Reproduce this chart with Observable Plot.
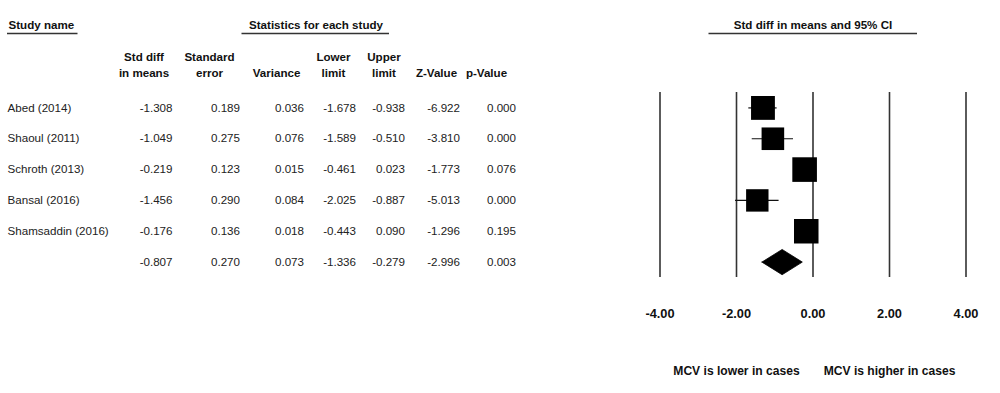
<!DOCTYPE html>
<html>
<head>
<meta charset="utf-8">
<script src="https://cdn.jsdelivr.net/npm/d3@7"></script>
<script src="https://cdn.jsdelivr.net/npm/@observablehq/plot@0.6"></script>
<style>
  html, body { margin: 0; padding: 0; background: #fff; }
  #wrap { position: relative; width: 1000px; height: 393px; overflow: hidden; }
  #wrap svg { position: absolute; left: 0; top: 0; }
</style>
</head>
<body>
<div id="wrap"></div>
<script>
// ---- data ----
const studies   = ["Abed (2014)", "Shaoul (2011)", "Schroth (2013)", "Bansal (2016)", "Shamsaddin (2016)"];
const stdDiff   = [-1.308, -1.049, -0.219, -1.456, -0.176];
const stdErr    = [0.189, 0.275, 0.123, 0.290, 0.136];
const variance  = [0.036, 0.076, 0.015, 0.084, 0.018];
const lowerLim  = [-1.678, -1.589, -0.461, -2.025, -0.443];
const upperLim  = [-0.938, -0.510, 0.023, -0.887, 0.090];
const zValue    = [-6.922, -3.810, -1.773, -5.013, -1.296];
const pValue    = [0.000, 0.000, 0.076, 0.000, 0.195];
const weightPct = [20.4, 18.3, 21.7, 18.0, 21.5];   // relative weights

const summaryStats = [-0.807, 0.270, 0.073, -1.336, -0.279, -2.996, 0.003]; // std diff, se, var, lower, upper, z, p

const columnLabels = ["Std diff\nin means", "Standard\nerror", "Variance", "Lower\nlimit", "Upper\nlimit", "Z-Value", "p-Value"];
const xTicks = [-4, -2, 0, 2, 4];
const directionLabels = ["MCV is lower in cases", "MCV is higher in cases"];
const directionAt = [-2, 2];

// ---- layout (pixels) ----
const colRight  = [172, 239.5, 303.5, 355.5, 404.5, 459.5, 515.5];
const colCenter = [143.5, 209, 276, 333, 383.5, 436, 486];
const nameX = 7;

// ---- build table ----
const rows = studies.map((s, i) => ({
  i, name: s,
  vals: [stdDiff[i], stdErr[i], variance[i], lowerLim[i], upperLim[i], zValue[i], pValue[i]]
}));
rows.push({i: studies.length, name: "", vals: summaryStats});

const cells = [];
rows.forEach(r => r.vals.forEach((v, c) => cells.push({row: r.i, x: colRight[c], text: v.toFixed(3)})));
const names = rows.filter(r => r.name).map(r => ({row: r.i, x: nameX, text: r.name}));
const heads = columnLabels.map((t, c) => ({x: colCenter[c], text: t}));
const underlines = [{x1: 7, x2: 77.5}, {x1: 241.5, x2: 389}, {x1: 708.5, x2: 917}];

const yScale = {domain: [-0.5, 5.5], range: [92, 277]};
const font = "'Liberation Sans', Arial, Helvetica, sans-serif";

const table = Plot.plot({
  width: 1000, height: 393,
  marginTop: 0, marginBottom: 0, marginLeft: 0, marginRight: 0,
  x: {type: "identity", axis: null},
  y: {...yScale, axis: null},
  style: {fontFamily: font, fontSize: "11.6px", color: "#222", background: "transparent"},
  marks: [
    Plot.text(names, {x: "x", y: "row", text: "text", textAnchor: "start", fill: "#222"}),
    Plot.text(cells, {x: "x", y: "row", text: "text", textAnchor: "end", fill: "#222"}),
    Plot.text(heads, {x: "x", frameAnchor: "top", dy: 76, text: "text", textAnchor: "middle", lineAnchor: "bottom",
                      lineHeight: 1.38, fontWeight: "bold", fill: "#111"}),
    Plot.text([{x: 8, text: "Study name"}], {x: "x", frameAnchor: "top", dy: 24.5, text: "text", textAnchor: "start",
                      lineAnchor: "middle", fontWeight: "bold", fill: "#111"}),
    Plot.text([{x: 315.5, text: "Statistics for each study"}], {x: "x", frameAnchor: "top", dy: 24.5, text: "text",
                      textAnchor: "middle", lineAnchor: "middle", fontWeight: "bold", fill: "#111"}),
    Plot.text([{x: 812.5, text: "Std diff in means and 95% CI"}], {x: "x", frameAnchor: "top", dy: 24.5, text: "text",
                      textAnchor: "middle", lineAnchor: "middle", fontWeight: "bold", fill: "#111"}),
    Plot.ruleY(underlines, {x1: "x1", x2: "x2", y: () => -0.5, dy: -59, stroke: "#333", strokeWidth: 1.4})
  ]
});

// ---- forest plot ----
const pts = studies.map((s, i) => ({row: i, est: stdDiff[i], lo: lowerLim[i], hi: upperLim[i], w: weightPct[i]}));
const si = studies.length;
const half = 0.41;
const diamond = [
  {x: summaryStats[3], y: si},
  {x: summaryStats[0], y: si - half},
  {x: summaryStats[4], y: si},
  {x: summaryStats[0], y: si + half},
  {x: summaryStats[3], y: si}
];

const forest = Plot.plot({
  width: 1000, height: 393,
  marginLeft: 659.5, marginRight: 34.5, marginTop: 92, marginBottom: 116,
  x: {domain: [-4, 4], axis: null},
  y: {...yScale, axis: null},
  r: {type: "sqrt", domain: [0, 25], range: [0, 14.9]},
  style: {fontFamily: font, fontSize: "13px", color: "#111", background: "transparent"},
  marks: [
    Plot.ruleX(xTicks, {stroke: "#333", strokeWidth: 1.6}),
    Plot.ruleY(pts, {y: "row", x1: "lo", x2: "hi", stroke: "#111", strokeWidth: 1.2}),
    Plot.dot(pts, {x: "est", y: "row", r: "w", symbol: "square", fill: "#000", stroke: "none"}),
    Plot.line(diamond, {x: "x", y: "y", fill: "#000", stroke: "#000", strokeWidth: 0.8}),
    Plot.axisX(xTicks, {anchor: "bottom", tickSize: 0, tickPadding: 31, tickFormat: d => d.toFixed(2),
                        fontWeight: "bold", fontSize: 12.8, fill: "#111"}),
    Plot.text(directionLabels.map((t, k) => ({x: directionAt[k], text: t})),
              {x: "x", text: "text", frameAnchor: "bottom", dy: 94, fontWeight: "bold", fontSize: 12.1,
               lineAnchor: "middle", fill: "#111"})
  ]
});

const wrap = document.getElementById("wrap");
wrap.appendChild(table);
wrap.appendChild(forest);
</script>
</body>
</html>
